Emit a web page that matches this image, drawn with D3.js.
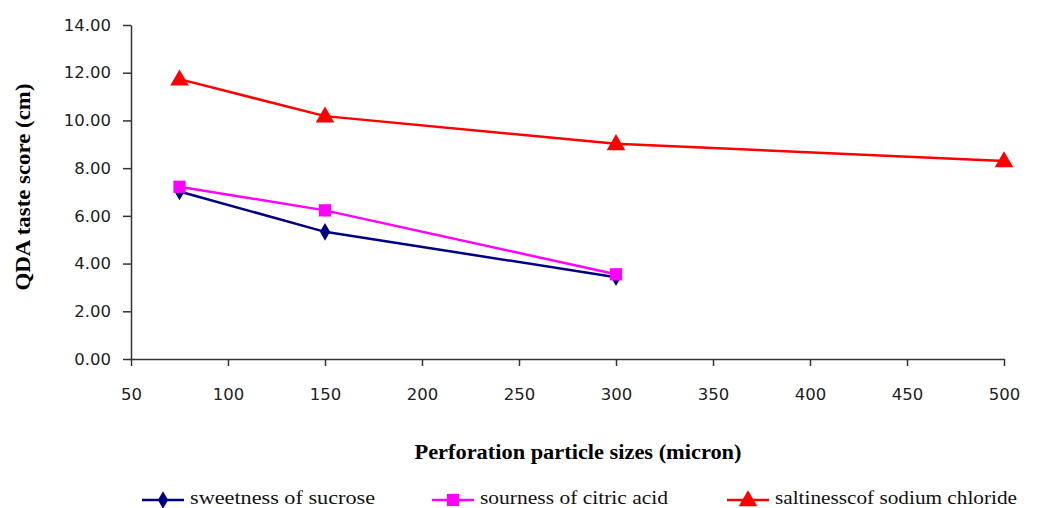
<!DOCTYPE html>
<html>
<head>
<meta charset="utf-8">
<script src="https://cdn.jsdelivr.net/npm/d3@7/dist/d3.min.js"></script>
<style>
  html, body { margin: 0; padding: 0; background: #fff; }
  svg { display: block; }
</style>
</head>
<body>
<svg id="chart" width="1044" height="508"></svg>
<script>
// Perforation particle sizes (micron)
const particleSizes = [75, 150, 300, 500];

// QDA taste scores (cm) per taste attribute
const sweetness = [7.02, 5.33, 3.43];
const sourness = [7.22, 6.23, 3.55];
const saltiness = [11.73, 10.18, 9.02, 8.30];

const xTicks = [50, 100, 150, 200, 250, 300, 350, 400, 450, 500];
const yTicks = [0, 2, 4, 6, 8, 10, 12, 14];

const seriesNames = ["sweetness of sucrose", "sourness of citric acid", "saltinesscof sodium chloride"];
const seriesColors = ["#000080", "#ff00ff", "#ff0000"];
const seriesValues = [sweetness, sourness, saltiness];

const svg = d3.select("#chart");
const plot = { left: 131, right: 1004, top: 25, bottom: 359 };

const x = d3.scaleLinear().domain([50, 500]).range([plot.left, plot.right]);
const y = d3.scaleLinear().domain([0, 14]).range([plot.bottom, plot.top]);

// Axes
const axisColor = "#333";
const xAxis = svg.append("g")
  .attr("transform", `translate(0,${plot.bottom})`)
  .call(d3.axisBottom(x).tickValues(xTicks).tickFormat(d3.format("d")).tickSize(7).tickSizeOuter(0).tickPadding(22));
const yAxis = svg.append("g")
  .attr("transform", `translate(${plot.left},0)`)
  .call(d3.axisLeft(y).tickValues(yTicks).tickFormat(d3.format(".2f")).tickSize(8).tickSizeOuter(0).tickPadding(12));

[xAxis, yAxis].forEach(g => {
  g.selectAll("path, line").attr("stroke", axisColor).attr("stroke-width", 1.5);
  g.selectAll("text")
    .attr("fill", "#222")
    .style("font-family", "'DejaVu Sans', sans-serif")
    .style("font-size", "16.5px");
});

// Marker shapes per series
const symbols = [
  d3.symbol().type(d3.symbolDiamond).size(90),
  d3.symbol().type(d3.symbolSquare).size(150),
  d3.symbol().type(d3.symbolTriangle).size(150)
];

const line = d3.line()
  .x((d, i) => x(particleSizes[i]))
  .y(d => y(d));

seriesValues.forEach((vals, s) => {
  svg.append("path")
    .datum(vals)
    .attr("d", line)
    .attr("fill", "none")
    .attr("stroke", seriesColors[s])
    .attr("stroke-width", 2.5);
  svg.append("g")
    .selectAll("path")
    .data(vals)
    .join("path")
    .attr("d", symbols[s])
    .attr("transform", (d, i) => `translate(${x(particleSizes[i])},${y(d) + (s === 2 ? 1 : 0)})`)
    .attr("fill", seriesColors[s]);
});

// Axis titles
const serifFont = "'Liberation Serif', 'DejaVu Serif', serif";
svg.append("text")
  .attr("x", 578).attr("y", 459)
  .attr("text-anchor", "middle")
  .attr("textLength", 327)
  .attr("lengthAdjust", "spacingAndGlyphs")
  .style("font-family", serifFont)
  .style("font-weight", "bold")
  .style("font-size", "20px")
  .text("Perforation particle sizes (micron)");

svg.append("text")
  .attr("transform", "translate(30,187) rotate(-90)")
  .attr("text-anchor", "middle")
  .attr("textLength", 207)
  .attr("lengthAdjust", "spacingAndGlyphs")
  .style("font-family", serifFont)
  .style("font-weight", "bold")
  .style("font-size", "20px")
  .text("QDA taste score (cm)");

// Legend
const legendX = [142, 432, 727];
const legendTextLens = [185, 188, 242];
const legendY = 500;
seriesNames.forEach((name, s) => {
  const lx = legendX[s];
  const g = svg.append("g");
  g.append("line")
    .attr("x1", lx).attr("x2", lx + 42)
    .attr("y1", legendY).attr("y2", legendY)
    .attr("stroke", seriesColors[s]).attr("stroke-width", 2.5);
  g.append("path")
    .attr("d", symbols[s])
    .attr("transform", `translate(${lx + 21},${legendY + (s === 2 ? 1 : 0)})`)
    .attr("fill", seriesColors[s]);
  g.append("text")
    .attr("x", lx + 48).attr("y", legendY + 4)
    .attr("textLength", legendTextLens[s])
    .attr("lengthAdjust", "spacingAndGlyphs")
    .style("font-family", serifFont)
    .style("font-weight", "normal")
    .style("font-size", "18px")
    .attr("fill", "#111")
    .text(name);
});
</script>
</body>
</html>
